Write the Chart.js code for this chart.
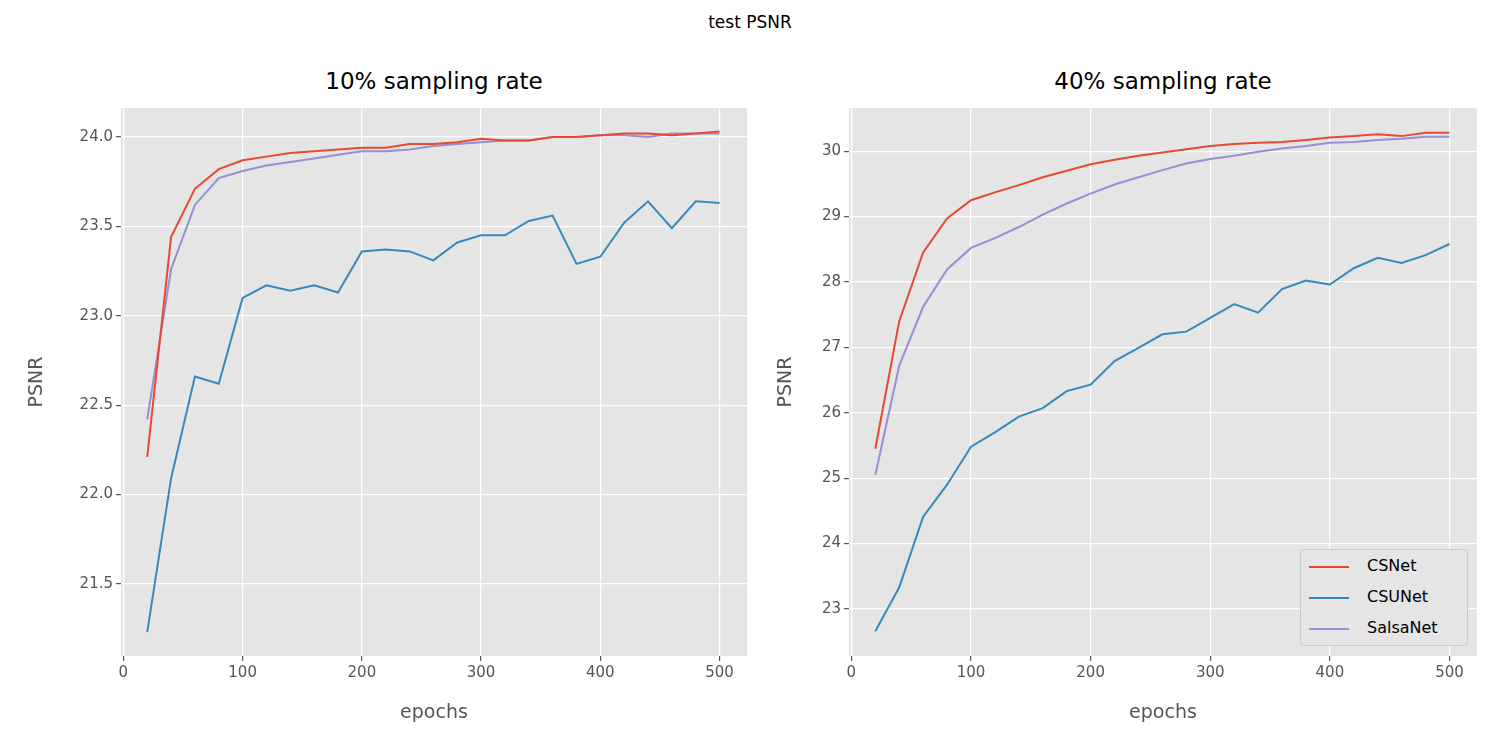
<!DOCTYPE html>
<html><head><meta charset="utf-8">
<script src="https://cdn.jsdelivr.net/npm/chart.js@4"></script>
<style>
body{margin:0;width:1500px;height:750px;background:#fff;font-family:"DejaVu Sans",sans-serif;position:relative;overflow:hidden}
.box{position:absolute;top:0;height:750px}
.t{position:absolute;white-space:nowrap;transform:translateX(-50%)}
#leg{position:absolute;left:1300px;top:549px;width:166px;height:95px;background:#E5E5E5;border:1px solid #ccc;border-radius:4px;font-size:16px}
#leg div{position:absolute;left:8px;height:20px;line-height:20px}
#leg span{display:inline-block;width:40px;height:2px;vertical-align:middle;margin-right:18px}
</style></head><body>
<div class="t" style="left:750px;top:12px;font-size:17px">test PSNR</div>
<div class="t" style="left:434px;top:68px;font-size:23px">10% sampling rate</div>
<div class="t" style="left:1163px;top:68px;font-size:23px">40% sampling rate</div>
<div class="box" style="left:0;width:760px"><canvas id="c1"></canvas></div>
<div class="box" style="left:750px;width:740px"><canvas id="c2"></canvas></div>
<div id="leg">
<div style="top:6px"><span style="background:#E24A33"></span>CSNet</div>
<div style="top:37px"><span style="background:#348ABD"></span>CSUNet</div>
<div style="top:68px"><span style="background:#988ED5"></span>SalsaNet</div>
</div>
<script>
// epochs and PSNR per model
var epochs = [20,40,60,80,100,120,140,160,180,200,220,240,260,280,300,320,340,360,380,400,420,440,460,480,500];
var csnet10 = [22.21,23.44,23.71,23.82,23.87,23.89,23.91,23.92,23.93,23.94,23.94,23.96,23.96,23.97,23.99,23.98,23.98,24.00,24.00,24.01,24.02,24.02,24.01,24.02,24.03];
var csunet10 = [21.23,22.09,22.66,22.62,23.10,23.17,23.14,23.17,23.13,23.36,23.37,23.36,23.31,23.41,23.45,23.45,23.53,23.56,23.29,23.33,23.52,23.64,23.49,23.64,23.63];
var salsa10 = [22.42,23.26,23.62,23.77,23.81,23.84,23.86,23.88,23.90,23.92,23.92,23.93,23.95,23.96,23.97,23.98,23.98,24.00,24.00,24.01,24.01,24.00,24.02,24.02,24.02];
var csnet40 = [25.45,27.4,28.45,28.97,29.25,29.37,29.48,29.6,29.7,29.8,29.87,29.93,29.98,30.03,30.08,30.11,30.13,30.14,30.17,30.21,30.23,30.26,30.23,30.28,30.28];
var csunet40 = [22.66,23.33,24.41,24.9,25.48,25.7,25.94,26.07,26.33,26.43,26.79,26.99,27.2,27.24,27.45,27.66,27.53,27.89,28.02,27.96,28.21,28.37,28.29,28.41,28.58];
var salsa40 = [25.05,26.72,27.62,28.19,28.52,28.67,28.84,29.03,29.2,29.35,29.49,29.6,29.71,29.81,29.88,29.93,29.99,30.04,30.08,30.13,30.14,30.17,30.19,30.22,30.22];

var bg = {id:'bg', beforeDraw: function(c){
    var a = c.chartArea, x = c.ctx;
    x.save(); x.fillStyle = '#E5E5E5'; x.fillRect(a.left, a.top, a.right-a.left, a.bottom-a.top); x.restore();
}};

function pts(ys){ return ys.map(function(y,i){ return {x:epochs[i], y:y}; }); }

function makeChart(id, sets, yMin, yMax, yStep, dec, yW, padR, yTitlePad){
    var names = ['CSNet','CSUNet','SalsaNet'], cols = ['#E24A33','#348ABD','#988ED5'];
    return new Chart(document.getElementById(id), {
        type: 'line',
        data: {datasets: sets.map(function(s,i){
            return {label:names[i], data:pts(s), borderColor:cols[i], borderWidth:2, pointRadius:0, tension:0, fill:false};
        })},
        options: {
            responsive:true, maintainAspectRatio:false, animation:false,
            layout:{padding:{top:108, right:padR, left:0, bottom:0}},
            plugins:{legend:{display:false}, tooltip:{enabled:false}},
            scales:{
                x:{type:'linear', min:-2, max:523,
                   afterFit:function(s){ s.height = 94; },
                   ticks:{stepSize:100, includeBounds:false, color:'#555', font:{size:15, family:'DejaVu Sans'}},
                   grid:{color:'#fff', lineWidth:1.2, tickColor:'#555', tickLength:5},
                   border:{display:false},
                   title:{display:true, text:'epochs', color:'#555', font:{size:19, family:'DejaVu Sans'}, padding:{top:4, bottom:26}},
                },
                y:{min:yMin, max:yMax,
                   afterFit:function(s){ s.width = yW; },
                   ticks:{stepSize:yStep, includeBounds:false, color:'#555', font:{size:15, family:'DejaVu Sans'},
                          callback:function(v){ return v.toFixed(dec); }},
                   grid:{color:'#fff', lineWidth:1.2, tickColor:'#555', tickLength:5},
                   border:{display:false},
                   title:{display:true, text:'PSNR', color:'#555', font:{size:19, family:'DejaVu Sans'}, padding:{top:yTitlePad, bottom:0}}}
            }
        },
        plugins:[bg]
    });
}

makeChart('c1', [csnet10, csunet10, salsa10], 21.097, 24.162, 0.5, 1, 121, 13, 26);
makeChart('c2', [csnet40, csunet40, salsa40], 22.28, 30.66, 1, 0, 99, 13, 25);
</script>
</body></html>
